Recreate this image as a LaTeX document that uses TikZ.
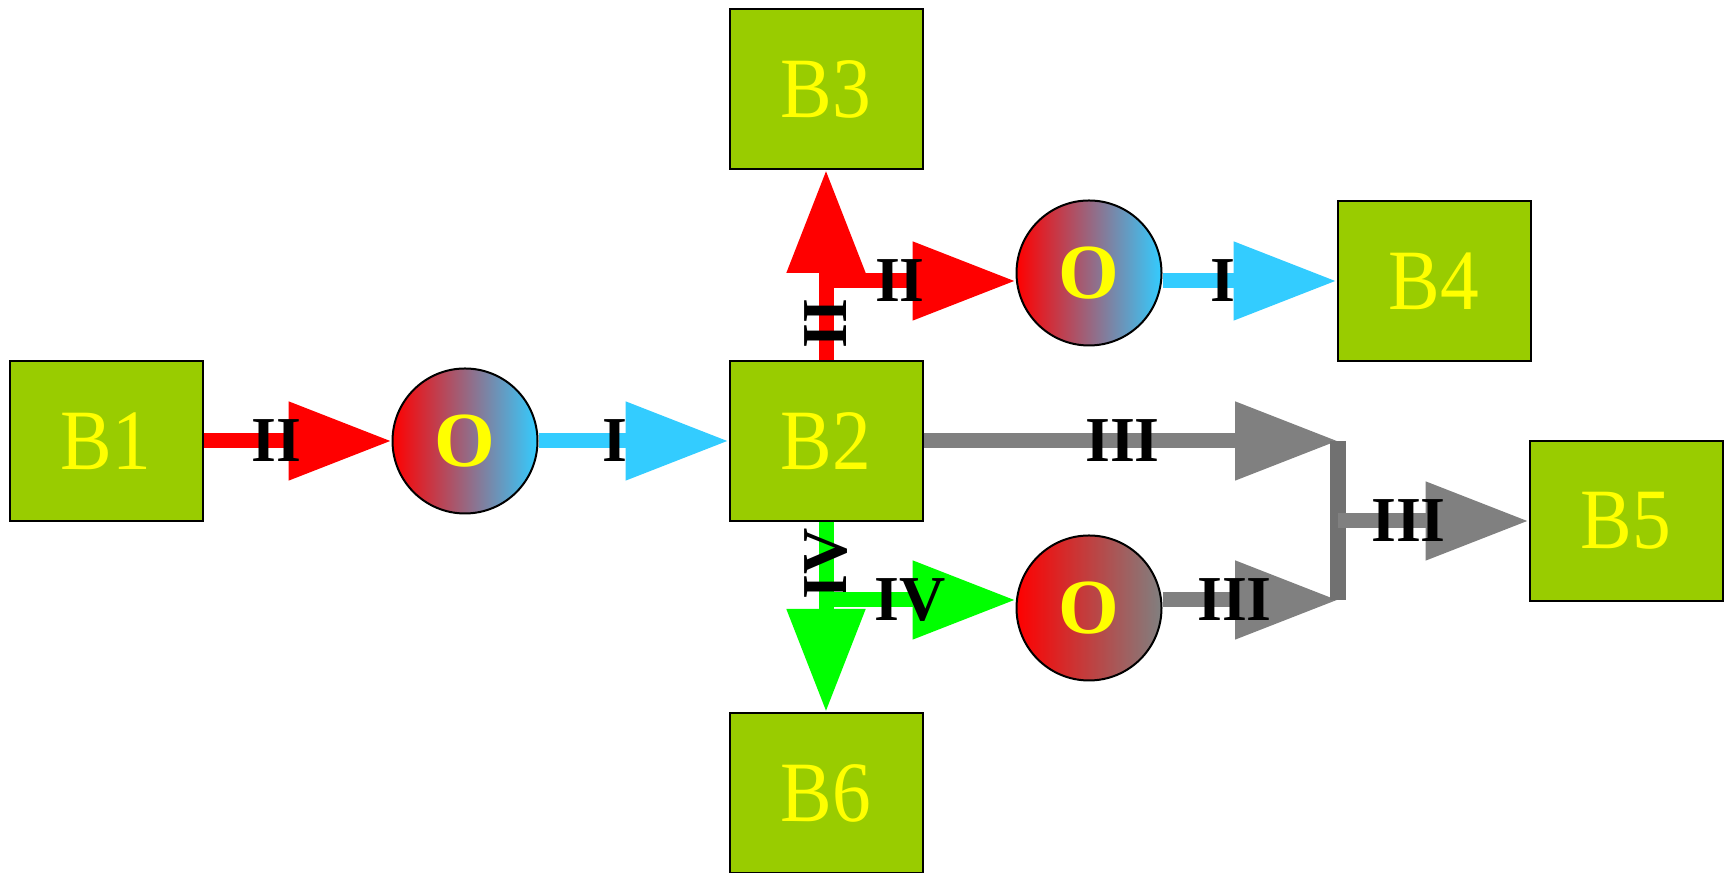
\documentclass[tikz,border=0pt]{standalone}
\usepackage{fontspec}
\setmainfont{Liberation Serif}
\newfontfamily\blockfont[FakeStretch=0.9]{Liberation Serif}
\usetikzlibrary{arrows.meta}
\definecolor{boxgreen}{HTML}{99CC00}
\definecolor{skyblue}{HTML}{33CCFF}
\definecolor{flowgray}{HTML}{808080}
\definecolor{flowgreen}{HTML}{00FF00}
\definecolor{textyellow}{HTML}{FFFF00}

\begin{document}
\begin{tikzpicture}[x=0.25pt, y=-0.25pt,
  block/.style={draw=black, line width=0.5pt, fill=boxgreen, minimum width=48.25pt,
    minimum height=40pt, inner sep=0pt, text=textyellow, font=\blockfont\fontsize{21.5}{24}\selectfont},
  mixer/.style={circle, draw=black, line width=0.5pt, minimum size=36.25pt, inner sep=0pt,
    text=textyellow, font=\bfseries\fontsize{19.5}{21}\selectfont},
  flow/.style={line width=3.75pt, -{Triangle[length=25.75pt, width=18.75pt]}},
  tag/.style={text=black, font=\bfseries\fontsize{16}{18}\selectfont, inner sep=0pt}]
  \useasboundingbox (0,0) rectangle (1725,873);

  % blocks
  \node[block] (b1) at (106,441) {B1};
  \node[block] (b2) at (826,441) {B2};
  \node[block] (b3) at (826,89) {B3};
  \node[block] (b4) at (1434,281) {B4};
  \node[block] (b5) at (1626,521) {B5};
  \node[block] (b6) at (826,793) {B6};

  % mixers, shaded left to right
  \node[mixer, left color=red, right color=skyblue] (o1) at (465,441) {O};
  \node[mixer, left color=red, right color=skyblue] (o2) at (1089,273) {O};
  \node[mixer, left color=red, right color=flowgray] (o3) at (1089,608) {O};

  % forks and merge points
  \coordinate (upfork) at (b2.north |- b4.west);
  \coordinate (downfork) at (826,600);
  \coordinate (mergetop) at (1338,441);
  \coordinate (mergebot) at (1338,600);
  \coordinate (mergemid) at (mergetop |- b5.west);

  % input line
  \draw[flow, red] (b1.east) -- node[tag, pos=0.39] {II} (o1.west);
  \draw[flow, skyblue] (o1.east) -- node[tag, pos=0.4] {I} (b2.west);

  % upper branch
  \draw[flow, red] (b2.north) -- node[tag, rotate=90, pos=0.19] {II} (b3.south);
  \draw[flow, red] (upfork) -- node[tag, pos=0.39] {II} (upfork -| o2.west);
  \draw[flow, skyblue] (o2.east |- b4.west) -- node[tag, pos=0.35] {I} (b4.west);

  % lower branch
  \draw[flow, flowgreen] (b2.south) -- node[tag, rotate=90, pos=0.22] {IV} (b6.north);
  \draw[flow, flowgreen] (downfork) -- node[tag, pos=0.445] {IV} (downfork -| o3.west);

  % merge into B5
  \draw[flow, flowgray] (b2.east) -- node[tag, pos=0.48] {III} (mergetop);
  \draw[flow, flowgray] (o3.east |- mergebot) -- node[tag, pos=0.41] {III} (mergebot);
  \draw[line width=4pt, flowgray!88!black] (mergetop) -- (mergebot);
  \draw[flow, flowgray] (mergemid) -- node[tag, pos=0.37] {III} (b5.west);
\end{tikzpicture}
\end{document}
